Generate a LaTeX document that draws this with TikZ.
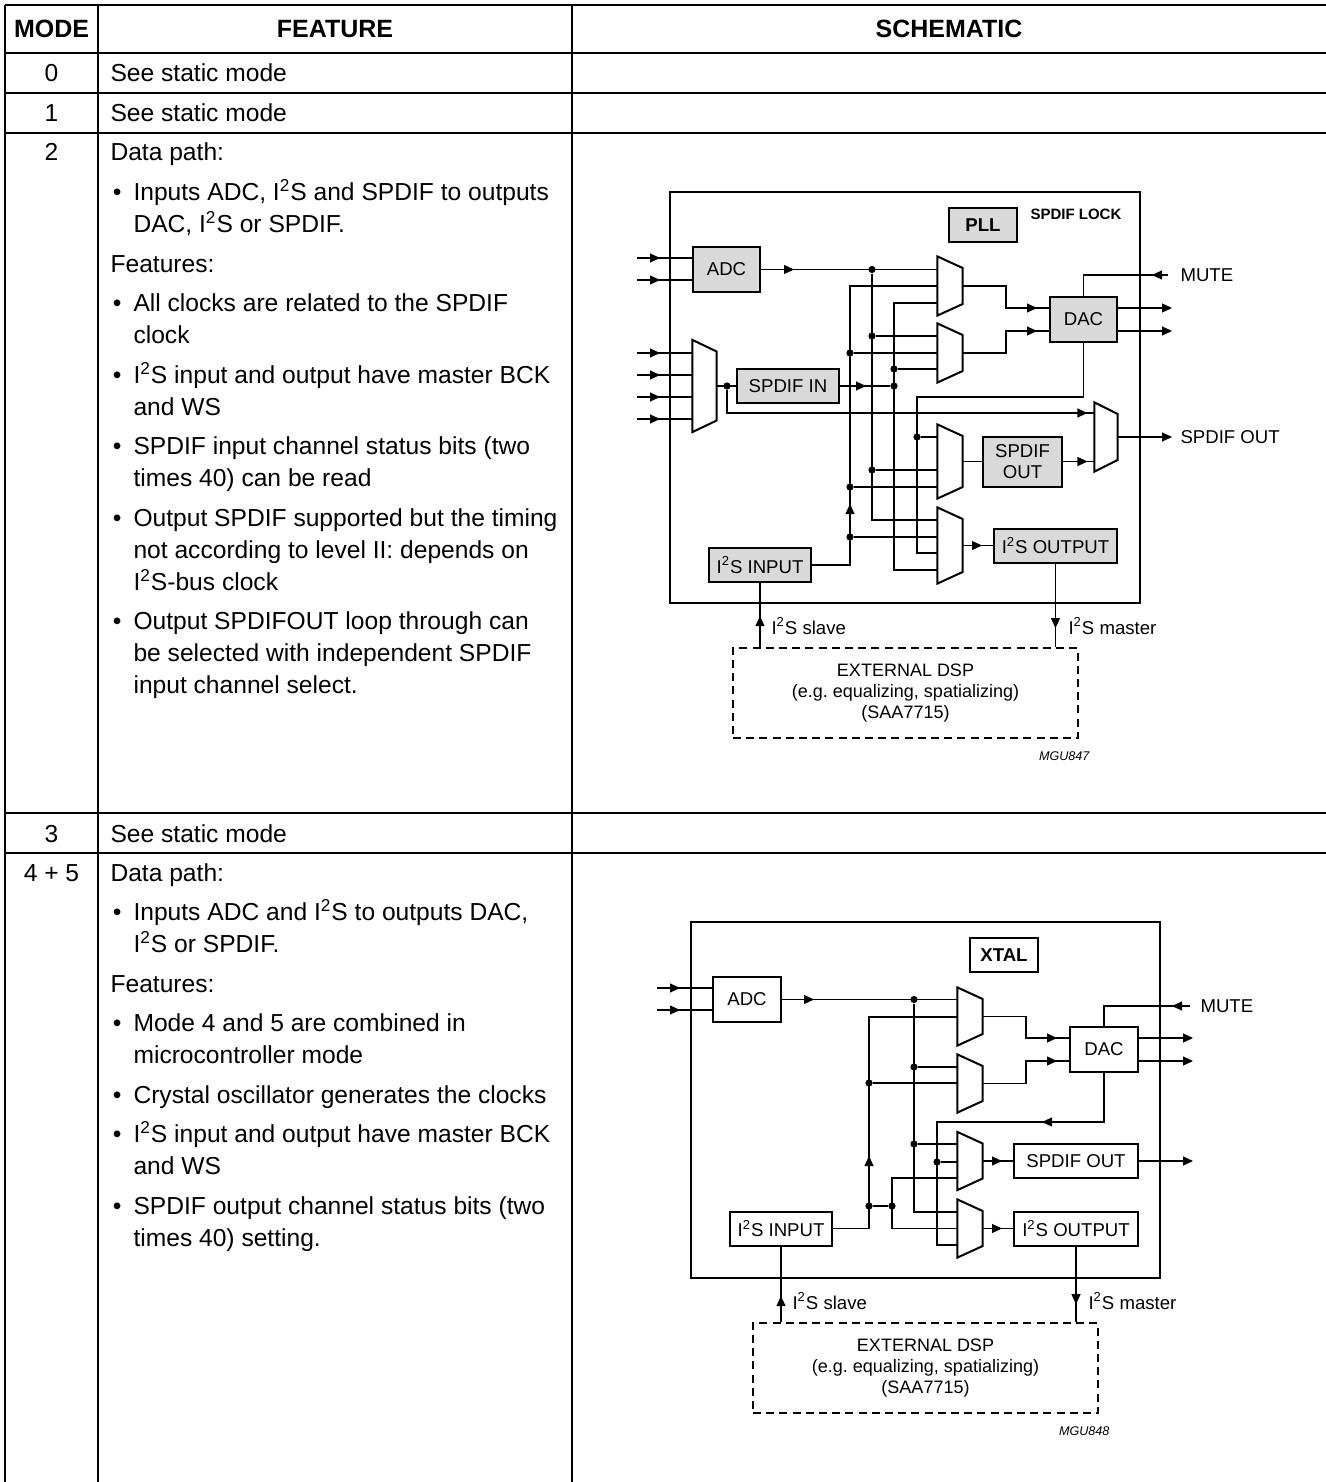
\documentclass[tikz,border=0pt]{standalone}
\usepackage{fontspec}
\setmainfont{Liberation Sans}
\usetikzlibrary{positioning,arrows.meta,decorations.markings}

\newcommand{\iiS}{I\textsuperscript{2}S}
% outline of a multiplexer drawn over its (invisible) node
\newcommand{\muxshape}[1]{\draw[line width=1pt] (#1.north west) -- ([yshift=-5.75pt]#1.north east)
  -- ([yshift=5.75pt]#1.south east) -- (#1.south west) -- cycle;}

\begin{document}
\begin{tikzpicture}[x=0.5pt, y=-0.5pt, line width=0.55pt,
    >={Triangle[length=5pt,width=4.5pt]},
    grid/.style={line width=1.2pt},
    hd/.style={inner sep=0pt, anchor=base, font=\fontsize{12.5}{15}\selectfont\bfseries},
    num/.style={inner sep=0pt, anchor=base, font=\fontsize{12.3}{15}\selectfont},
    txt/.style={inner sep=0pt, anchor=base west, font=\fontsize{12.3}{15}\selectfont},
    chip/.style={draw, line width=1.2pt, inner sep=0pt},
    blk/.style={draw, line width=1pt, fill=gray!30, inner sep=0pt, align=center, font=\fontsize{9.3}{10.5}\selectfont},
    wblk/.style={blk, fill=white},
    bold/.style={font=\fontsize{9.3}{10.5}\selectfont\bfseries},
    mux/.style={inner sep=0pt, minimum width=12pt},
    dot/.style={circle, fill, inner sep=0pt, minimum size=3.6pt},
    dsp/.style={draw, dash pattern=on 4pt off 2.6pt, line width=0.9pt, inner sep=0pt, align=center, font=\fontsize{9}{10.5}\selectfont},
    lbl/.style={inner sep=0pt, font=\fontsize{9.3}{10.5}\selectfont},
    lock/.style={inner sep=0pt, font=\fontsize{7.5}{9}\selectfont\bfseries},
    code/.style={inner sep=0pt, font=\fontsize{6.3}{7}\selectfont\itshape},
    marr/.style={postaction={decorate}, decoration={markings, mark=at position #1 with {\arrow{>}}}}
  ]
\useasboundingbox (0,0) rectangle (1326,1482);

% table
\draw[grid] (5,5) -- (1326,5);
\draw[grid] (5,53) -- (1326,53);
\draw[grid] (5,93) -- (1326,93);
\draw[grid] (5,133) -- (1326,133);
\draw[grid] (5,813) -- (1326,813);
\draw[grid] (5,853) -- (1326,853);
\draw[grid] (5,5) -- (5,1482);
\draw[grid] (98,5) -- (98,1482);
\draw[grid] (572,5) -- (572,1482);

\node[hd] (hmode) at (51.5,38) {MODE};
\node[hd] (hfeat) at (335,38) {FEATURE};
\node[hd] (hsch) at (949,38) {SCHEMATIC};

\node[num] (m0) at (51.5,82) {0};
\node[txt] (f0) at (110,82) {See static mode};
\node[num] (m1) at (51.5,122) {1};
\node[txt] (f1) at (110,122) {See static mode};

\node[num] (m2) at (51.5,161) {2};
\node[txt] (f2a) at (110,161) {Data path:};
\node[txt] (f2b) at (133,200.5) {\llap{\textbullet\hspace{6pt}}Inputs ADC, \iiS{} and SPDIF to outputs};
\node[txt] (f2c) at (133,232.5) {DAC, \iiS{} or SPDIF.};
\node[txt] (f2d) at (110,272) {Features:};
\node[txt] (f2e) at (133,311.5) {\llap{\textbullet\hspace{6pt}}All clocks are related to the SPDIF};
\node[txt] (f2f) at (133,343.5) {clock};
\node[txt] (f2g) at (133,383) {\llap{\textbullet\hspace{6pt}}\iiS{} input and output have master BCK};
\node[txt] (f2h) at (133,415) {and WS};
\node[txt] (f2i) at (133,454.5) {\llap{\textbullet\hspace{6pt}}SPDIF input channel status bits (two};
\node[txt] (f2j) at (133,486.5) {times 40) can be read};
\node[txt] (f2k) at (133,526) {\llap{\textbullet\hspace{6pt}}Output SPDIF supported but the timing};
\node[txt] (f2l) at (133,558) {not according to level II: depends on};
\node[txt] (f2m) at (133,590) {\iiS-bus clock};
\node[txt] (f2n) at (133,629.5) {\llap{\textbullet\hspace{6pt}}Output SPDIFOUT loop through can};
\node[txt] (f2o) at (133,661.5) {be selected with independent SPDIF};
\node[txt] (f2p) at (133,693.5) {input channel select.};

\node[num] (m3) at (51.5,842) {3};
\node[txt] (f3) at (110,842) {See static mode};

\node[num] (m4) at (51.5,881) {4 + 5};
\node[txt] (f4a) at (110,881) {Data path:};
\node[txt] (f4b) at (133,920.5) {\llap{\textbullet\hspace{6pt}}Inputs ADC and \iiS{} to outputs DAC,};
\node[txt] (f4c) at (133,952.5) {\iiS{} or SPDIF.};
\node[txt] (f4d) at (110,992) {Features:};
\node[txt] (f4e) at (133,1031.5) {\llap{\textbullet\hspace{6pt}}Mode 4 and 5 are combined in};
\node[txt] (f4f) at (133,1063.5) {microcontroller mode};
\node[txt] (f4g) at (133,1103) {\llap{\textbullet\hspace{6pt}}Crystal oscillator generates the clocks};
\node[txt] (f4h) at (133,1142.5) {\llap{\textbullet\hspace{6pt}}\iiS{} input and output have master BCK};
\node[txt] (f4i) at (133,1174.5) {and WS};
\node[txt] (f4j) at (133,1214) {\llap{\textbullet\hspace{6pt}}SPDIF output channel status bits (two};
\node[txt] (f4k) at (133,1246) {times 40) setting.};

% schematic of mode 2
\node[chip, minimum width=235pt, minimum height=205.5pt] (chip1) at (905,397.5) {};
\node[blk, minimum width=33.5pt, minimum height=22.5pt] (adc1) at (726.5,269.5) {ADC};
\node[blk, minimum width=51pt, minimum height=17pt] (spdifin1) at (788,386) {SPDIF IN};
\node[blk, bold, minimum width=34pt, minimum height=17pt] (pll1) at (983,225) {PLL};
\node[lock, anchor=north west] (lock1) at (1030,208) {SPDIF LOCK};
\node[blk, minimum width=33.5pt, minimum height=22.5pt] (dac1) at (1083.5,319.5) {DAC};
\node[blk, minimum width=39.5pt, minimum height=25pt] (spdifout1) at (1022.5,461.5) {SPDIF\\OUT};
\node[blk, minimum width=61.5pt, minimum height=17pt] (iisout1) at (1055.5,545.5) {\iiS{} OUTPUT};
\node[blk, minimum width=51pt, minimum height=17pt] (iisin1) at (760,565) {\iiS{} INPUT};
\node[dsp, minimum width=172.5pt, minimum height=45pt] (dsp1) at (905.5,693) {EXTERNAL DSP\\(e.g.\ equalizing, spatializing)\\(SAA7715)};
\node[code, anchor=east] (mgu1) at (1090,756) {MGU847};

\node[mux, minimum width=11.5pt, minimum height=45.5pt] (mux10) at (704.5,386) {};
\node[mux, minimum height=29pt] (mux11) at (950,286) {};
\node[mux, minimum height=29pt] (mux12) at (950,353) {};
\node[mux, minimum height=36.5pt] (mux13) at (950,461.5) {};
\node[mux, minimum height=37.5pt] (mux14) at (950,545.5) {};
\node[mux, minimum width=11pt, minimum height=34pt] (mux15) at (1106,437) {};
\muxshape{mux10}
\muxshape{mux11}
\muxshape{mux12}
\muxshape{mux13}
\muxshape{mux14}
\muxshape{mux15}

\coordinate (in11) at (637,258);
\coordinate (in12) at (637,280);
\coordinate (in13) at (637,353);
\coordinate (in14) at (637,375);
\coordinate (in15) at (637,397);
\coordinate (in16) at (637,419);
\coordinate (a1top) at (850,286);
\coordinate (b1bot) at (872,520);
\coordinate (c1top) at (894,303);
\coordinate (c1bot) at (894,570);
\coordinate (d1top) at (917,397);
\coordinate (d1bot) at (917,553);
\coordinate (t1) at (727,413);
\coordinate (k11) at (1006,308);
\coordinate (k12) at (1006,331);
\coordinate (o11) at (1172,308);
\coordinate (o12) at (1172,331);
\coordinate (o15) at (1172,437);
\coordinate (mute1) at (1168,275);

\node[dot] (jb11) at (872,269.5) {};
\node[dot] (jb12) at (872,336) {};
\node[dot] (ja12) at (850,353) {};
\node[dot] (jc12) at (894,369) {};
\node[dot] (jc1s) at (894,386) {};
\node[dot] (js1) at (727,386) {};
\node[dot] (jd13) at (917,437) {};
\node[dot] (jb13) at (872,470) {};
\node[dot] (ja13) at (850,487) {};
\node[dot] (ja14) at (850,537) {};

\draw[marr=11.5pt] (in11) -- (adc1.west|-in11);
\draw[marr=11.5pt] (in12) -- (adc1.west|-in12);
\draw[marr=11.5pt] (in13) -- (mux10.west|-in13);
\draw[marr=11.5pt] (in14) -- (mux10.west|-in14);
\draw[marr=11.5pt] (in15) -- (mux10.west|-in15);
\draw[marr=11.5pt] (in16) -- (mux10.west|-in16);
\draw[marr=16.5pt] (adc1.east) -- (mux11.west|-adc1.east);
\draw (mux10.east) -- (spdifin1.west);
\draw[marr=13pt] (spdifin1.east) -- (jc1s);
\draw[marr=-3.5pt] (js1) -- (t1) -- (mux15.west|-t1);
\draw[marr=49.5pt] (iisin1.east) -| (a1top) -- (mux11.west|-a1top);
\draw (jb11) -- (b1bot) -- (mux14.west|-b1bot);
\draw (mux11.west|-c1top) -- (c1top) -- (c1bot) -- (mux14.west|-c1bot);
\draw (dac1.south) |- (d1top) -- (d1bot) -- (mux14.west|-d1bot);
\draw (jb12) -- (mux12.west|-jb12);
\draw (ja12) -- (mux12.west|-ja12);
\draw (jc12) -- (mux12.west|-jc12);
\draw (jd13) -- (mux13.west|-jd13);
\draw (jb13) -- (mux13.west|-jb13);
\draw (ja13) -- (mux13.west|-ja13);
\draw (ja14) -- (mux14.west|-ja14);
\draw[marr=-6pt] (mux11.east) -| (k11) -- (dac1.west|-k11);
\draw[marr=-6pt] (mux12.east) -| (k12) -- (dac1.west|-k12);
\draw[->] (dac1.east|-o11) -- (o11);
\draw[->] (dac1.east|-o12) -- (o12);
\draw[marr=8pt] (mute1) -| (dac1.north);
\node[lbl, right=6pt of mute1] (lmute1) {MUTE};
\draw (mux13.east) -- (spdifout1.west|-mux13.east);
\draw[marr=-3.5pt] (spdifout1.east) -- (mux15.west|-spdifout1.east);
\draw[->] (mux15.east) -- (o15);
\node[lbl, right=4pt of o15] (lspo1) {SPDIF OUT};
\draw[marr=-5.5pt] (mux14.east) -- (iisout1.west|-mux14.east);
\draw[marr=15.5pt] (dsp1.north -| iisin1.south) -- (iisin1.south);
\node[lbl, anchor=west] (lsl1) at (771,626) {\iiS{} slave};
\draw[marr=-9.5pt] (iisout1.south) -- (dsp1.north -| iisout1.south);
\node[lbl, anchor=west] (lms1) at (1068,626) {\iiS{} master};

% schematic of mode 4 + 5
\node[chip, minimum width=234.5pt, minimum height=178pt] (chip2) at (925.5,1100) {};
\node[wblk, minimum width=34pt, minimum height=22.5pt] (adc2) at (747,999.5) {ADC};
\node[wblk, bold, minimum width=34pt, minimum height=17pt] (xtal2) at (1004,955) {XTAL};
\node[wblk, minimum width=34pt, minimum height=22.5pt] (dac2) at (1104,1049.5) {DAC};
\node[wblk, minimum width=62pt, minimum height=17pt] (spdifout2) at (1076,1161) {SPDIF OUT};
\node[wblk, minimum width=62pt, minimum height=17pt] (iisout2) at (1076,1228.5) {\iiS{} OUTPUT};
\node[wblk, minimum width=51pt, minimum height=17pt] (iisin2) at (781,1228.5) {\iiS{} INPUT};
\node[dsp, minimum width=172.5pt, minimum height=45pt] (dsp2) at (925.5,1368) {EXTERNAL DSP\\(e.g.\ equalizing, spatializing)\\(SAA7715)};
\node[code, anchor=east] (mgu2) at (1110,1431) {MGU848};

\node[mux, minimum height=28.5pt] (mux21) at (970,1016.5) {};
\node[mux, minimum height=28.5pt] (mux22) at (970,1083.5) {};
\node[mux, minimum height=28.5pt] (mux23) at (970,1161) {};
\node[mux, minimum height=28.5pt] (mux24) at (970,1228.5) {};
\muxshape{mux21}
\muxshape{mux22}
\muxshape{mux23}
\muxshape{mux24}

\coordinate (in21) at (657,988);
\coordinate (in22) at (657,1010);
\coordinate (a2top) at (869,1017);
\coordinate (b2bot) at (914,1212);
\coordinate (d2top) at (937,1122);
\coordinate (d2bot) at (937,1245);
\coordinate (e2top) at (892,1178);
\coordinate (e2bot) at (892,1228.5);
\coordinate (k21) at (1026,1038);
\coordinate (k22) at (1026,1061);
\coordinate (o21) at (1193,1038);
\coordinate (o22) at (1193,1061);
\coordinate (o23) at (1193,1161);
\coordinate (mute2) at (1190,1006);

\node[dot] (jb21) at (914,999.5) {};
\node[dot] (jb22) at (914,1067) {};
\node[dot] (ja22) at (869,1083) {};
\node[dot] (jb23) at (914,1144) {};
\node[dot] (jd23) at (937,1162) {};
\node[dot] (ja24) at (869,1206) {};
\node[dot] (je24) at (892,1206) {};

\draw[marr=11.5pt] (in21) -- (adc2.west|-in21);
\draw[marr=11.5pt] (in22) -- (adc2.west|-in22);
\draw[marr=16pt] (adc2.east) -- (mux21.west|-adc2.east);
\draw[marr=54.25pt] (iisin2.east) -| (a2top) -- (mux21.west|-a2top);
\draw (jb21) -- (b2bot) -- (mux24.west|-b2bot);
\draw[marr=55.5pt] (dac2.south) |- (d2top) -- (d2bot) -- (mux24.west|-d2bot);
\draw (mux23.west|-e2top) -- (e2top) -- (e2bot) -- (mux24.west|-e2bot);
\draw (ja24) -- (je24);
\draw (jb22) -- (mux22.west|-jb22);
\draw (ja22) -- (mux22.west|-ja22);
\draw (jb23) -- (mux23.west|-jb23);
\draw (jd23) -- (mux23.west|-jd23);
\draw[marr=-6pt] (mux21.east) -| (k21) -- (dac2.west|-k21);
\draw[marr=-6pt] (mux22.east) -| (k22) -- (dac2.west|-k22);
\draw[->] (dac2.east|-o21) -- (o21);
\draw[->] (dac2.east|-o22) -- (o22);
\draw[marr=9pt] (mute2) -| (dac2.north);
\node[lbl, right=5pt of mute2] (lmute2) {MUTE};
\draw[marr=-5.5pt] (mux23.east) -- (spdifout2.west|-mux23.east);
\draw[marr=-5.5pt] (mux24.east) -- (iisout2.west|-mux24.east);
\draw[->] (spdifout2.east) -- (o23);
\draw[marr=13pt] (dsp2.north -| iisin2.south) -- (iisin2.south);
\node[lbl, anchor=west] (lsl2) at (792,1301) {\iiS{} slave};
\draw[marr=-9pt] (iisout2.south) -- (dsp2.north -| iisout2.south);
\node[lbl, anchor=west] (lms2) at (1088,1301) {\iiS{} master};
\end{tikzpicture}
\end{document}
